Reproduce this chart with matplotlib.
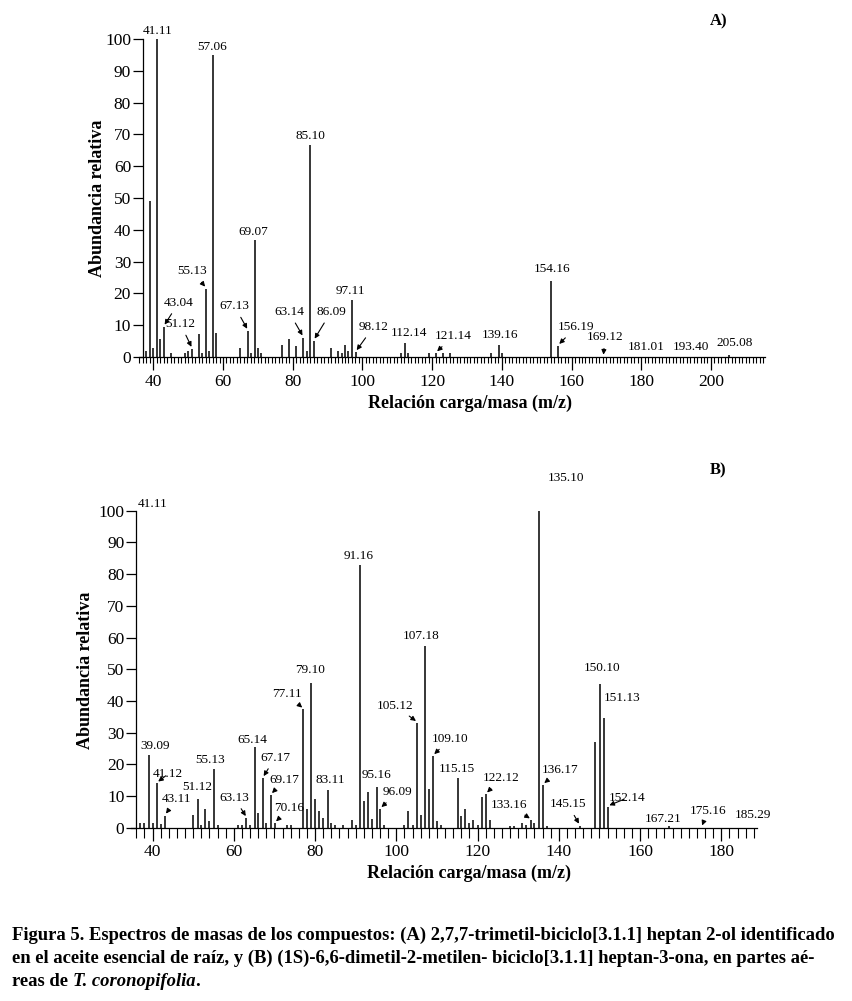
import matplotlib.pyplot as plt
from matplotlib.ticker import MultipleLocator

plt.rcParams['font.family'] = ['Liberation Serif', 'DejaVu Serif']

# ---- Panel A: peaks (m/z, relative abundance) ----
mz_a = [38, 39, 40, 41.11, 42, 43.04, 45, 49, 50, 51.12, 53, 54, 55.13, 56, 57.06, 58,
        65, 67.13, 68, 69.07, 70, 71, 77, 79, 81, 83, 84, 85.10, 86.09, 91, 93, 94,
        95, 96, 97.11, 98.12, 111, 112.14, 113, 119, 121.14, 123, 125, 137, 139.16,
        140, 154.16, 156.19, 205.08]
ab_a = [2, 49, 2.7, 100, 5.7, 9.5, 1.4, 1.4, 2, 2.5, 7.3, 1.4, 21.5, 1.9, 95, 7.5,
        2.7, 8.2, 1.4, 36.8, 2.7, 1.3, 3.8, 5.7, 3.5, 6.1, 2, 66.7, 5.1, 2.8, 2, 1.4,
        3.8, 2, 17.9, 1.5, 1.2, 4.5, 1.2, 1.2, 1.2, 1.4, 1.2, 1.4, 3.7,
        1.2, 23.9, 3.5, 0.6]

# labels: text, peak it refers to, text centre (m/z, abundance), arrow?
lab_a = ["41.11", "57.06", "69.07", "85.10", "97.11", "154.16", "55.13", "43.04",
         "51.12", "67.13", "63.14", "86.09", "98.12", "112.14", "121.14", "139.16",
         "156.19", "169.12", "181.01", "193.40", "205.08"]
lab_at_a = [41.11, 57.06, 69.07, 85.10, 97.11, 154.16, 55.13, 43.04,
            51.12, 67.13, 83, 86.09, 98.12, 112.14, 121.14, 139.16,
            156.19, 169.12, 181.01, 193.40, 205.08]
lab_pos_a = [(41.2, 102.5), (56.8, 97.5), (68.6, 39.3), (85.0, 69.5), (96.6, 20.9),
             (154.3, 27.7), (51.2, 26.9), (47.3, 17.1), (47.8, 10.4), (63.3, 16.0),
             (78.9, 14.2), (91.0, 14.2), (103.2, 9.5), (113.4, 7.7), (126.1, 6.6),
             (139.4, 7.0), (161.3, 9.4), (169.6, 6.3), (181.3, 3.1), (194.3, 3.1),
             (206.9, 4.5)]
arrow_a = [0, 0, 0, 0, 0, 0, 1, 1, 1, 1, 1, 1, 1, 0, 1, 0, 1, 1, 0, 0, 0]

# ---- Panel B ----
mz_b = [37, 38, 39.09, 40, 41.12, 42, 43.11, 50, 51.12, 52, 53, 54, 55.13, 56, 61, 62,
        63.13, 64, 65.14, 66, 67.17, 68, 69.17, 70.16, 73, 74, 77.11, 78, 79.10, 80,
        81, 82, 83.11, 84, 85, 87, 89, 90, 91.16, 92, 93, 94, 95.16, 96.09, 97, 102,
        103, 104, 105.12, 106, 107.18, 108, 109.10, 110, 111, 115.15, 116, 117, 118,
        119, 120, 121, 122.12, 123, 128, 129, 131, 132, 133.16, 134, 135.10, 136.17,
        137, 145.15, 149, 150.10, 151.13, 152.14, 167.21]
ab_b = [1.6, 1.6, 22.9, 1.6, 14, 1.2, 3.8, 4, 8.9, 1, 5.8, 2.1, 18.5, 1, 0.8, 0.8,
        3, 0.8, 25.5, 4.7, 15.6, 1.4, 10.3, 1.4, 0.7, 0.7, 37.3, 5.8, 45.8, 9.1,
        5.3, 3.2, 11.9, 1.4, 0.7, 0.7, 2.4, 0.7, 82.9, 8.4, 11.3, 2.9, 12.9, 5.9, 0.7, 0.7,
        5.3, 0.8, 33.1, 4.0, 57.3, 12.3, 22.6, 2.1, 0.7, 15.8, 3.7, 6.0, 1.4,
        2.4, 0.8, 9.7, 10.5, 2.4, 0.6, 0.6, 1.4, 1, 2.4, 1.4, 100, 13.5,
        0.6, 0.6, 27.1, 45.3, 34.5, 6.6, 0.6]

lab_b = ["41.11", "39.09", "41.12", "43.11", "51.12", "55.13", "63.13", "65.14",
         "67.17", "69.17", "70.16", "77.11", "79.10", "83.11", "91.16", "95.16",
         "96.09", "105.12", "107.18", "109.10", "115.15", "122.12", "133.16",
         "135.10", "136.17", "145.15", "150.10", "151.13", "152.14", "167.21",
         "175.16", "185.29"]
lab_at_b = [None, 39.09, 41.12, 43.11, 51.12, 55.13, 63.13, 65.14,
            67.17, 69.17, 70.16, 77.11, 79.10, 83.11, 91.16, 95.16,
            96.09, 105.12, 107.18, 109.10, 115.15, 122.12, 133.16,
            135.10, 136.17, 145.15, 150.10, 151.13, 152.14, 167.21,
            175.16, 185.29]
lab_pos_b = [(40.0, 102.1), (40.6, 25.8), (43.8, 16.9), (45.9, 9.0), (51.1, 12.9),
             (54.1, 21.5), (60.1, 9.5), (64.6, 27.8), (70.2, 22.1), (72.5, 15.0),
             (73.7, 6.1), (73.0, 42.2), (78.7, 49.6), (83.8, 15.0), (90.8, 85.6),
             (95.2, 16.7), (100.4, 11.2), (99.7, 38.5), (106.2, 60.6), (113.3, 28.1),
             (114.8, 18.4), (125.9, 15.7), (127.8, 7.2), (141.9, 110.3), (140.3, 18.2),
             (142.2, 7.4), (150.7, 50.5), (155.6, 41.0), (156.7, 9.3), (165.7, 2.8),
             (176.7, 5.2), (187.9, 4.0)]
arrow_b = [0, 0, 1, 1, 0, 0, 1, 0, 1, 1, 1, 1, 0, 0, 0, 0, 1, 1, 0, 1, 0, 1, 1,
           0, 1, 1, 0, 0, 1, 0, 1, 0]

W, H = 853, 1001
fig = plt.figure(figsize=(W / 100, H / 100), dpi=100)


def spectrum(rect, mz, ab, labels, lab_at, lab_pos, arrows, xlim, spine_x, minor):
    ax = fig.add_axes(rect)
    ax.vlines(mz, 0, ab, color='black', lw=1.1)
    ax.set_xlim(*xlim)
    ax.set_ylim(0, 100)
    for s in ['top', 'right']:
        ax.spines[s].set_visible(False)
    ax.spines['left'].set_position(('data', spine_x))
    ax.spines['left'].set_linewidth(0.9)
    ax.spines['bottom'].set_linewidth(0.9)
    ax.yaxis.set_major_locator(MultipleLocator(10))
    ax.xaxis.set_major_locator(MultipleLocator(20))
    ax.xaxis.set_minor_locator(MultipleLocator(minor))
    ax.tick_params(axis='y', direction='out', length=7, width=0.9, pad=1.5, labelsize=12.5)
    ax.tick_params(axis='x', which='major', direction='out', length=9, width=0.9,
                   pad=3, labelsize=12.5)
    ax.tick_params(axis='x', which='minor', direction='out',
                   length=4.5 if minor == 1 else 7, width=0.8)
    ax.set_ylabel('Abundancia relativa', fontsize=13, fontweight='bold')
    ax.set_xlabel('Relación carga/masa (m/z)', fontsize=13, fontweight='bold')
    lookup = dict(zip(mz, ab))
    for txt, at, pos, arr in zip(labels, lab_at, lab_pos, arrows):
        if arr:
            h = lookup.get(at, 0)
            ax.annotate(txt, xy=(at, h + 0.3), xytext=pos, ha='center', va='center',
                        fontsize=9.5, annotation_clip=False,
                        arrowprops=dict(arrowstyle='-|>', lw=0.8, color='black',
                                        mutation_scale=7, shrinkA=2, shrinkB=1))
        else:
            ax.text(pos[0], pos[1], txt, ha='center', va='center', fontsize=9.5,
                    clip_on=False)
    return ax


axA = spectrum([139 / W, 1 - 357 / H, (765 - 139) / W, 318 / H],
               mz_a, ab_a, lab_a, lab_at_a, lab_pos_a, arrow_a,
               (35.9, 215.5), 37, 1)
axB = spectrum([131 / W, 1 - 827.7 / H, (757 - 131) / W, 317 / H],
               mz_b, ab_b, lab_b, lab_at_b, lab_pos_b, arrow_b,
               (34.7, 188.8), 36, 2)

# axis labels placed in figure coordinates
axA.yaxis.set_label_coords(97.5 / W, 1 - 198 / H, transform=fig.transFigure)
axA.xaxis.set_label_coords(470 / W, 1 - 403 / H, transform=fig.transFigure)
axB.yaxis.set_label_coords(85.5 / W, 1 - 670 / H, transform=fig.transFigure)
axB.xaxis.set_label_coords(469 / W, 1 - 873 / H, transform=fig.transFigure)
for ax in (axA, axB):
    ax.yaxis.label.set_va('center')
    ax.xaxis.label.set_va('center')

fig.text(719 / W, 1 - 21.5 / H, 'A)', ha='center', va='center', fontsize=12, fontweight='bold')
fig.text(718 / W, 1 - 470 / H, 'B)', ha='center', va='center', fontsize=12, fontweight='bold')

# caption (baselines)
cap = dict(fontsize=13.4, fontweight='bold', va='baseline')
fig.text(12 / W, 1 - 940 / H,
         'Figura 5. Espectros de masas de los compuestos: (A) 2,7,7-trimetil-biciclo[3.1.1] '
         'heptan 2-ol identificado', **cap)
fig.text(12 / W, 1 - 963 / H,
         'en el aceite esencial de raíz, y (B) (1S)-6,6-dimetil-2-metilen- biciclo[3.1.1] '
         'heptan-3-ona, en partes aé-', **cap)
y3 = 1 - 986 / H
t1 = fig.text(12 / W, y3, 'reas de ', **cap)
t2 = fig.text(0, y3, 'T. coronopifolia', style='italic', **cap)
t3 = fig.text(0, y3, '.', **cap)

# chain the pieces of the last caption line after each other
r = fig.canvas.get_renderer()
inv = fig.transFigure.inverted()
t2.set_x(inv.transform((t1.get_window_extent(r).x1, 0))[0])
t3.set_x(inv.transform((t2.get_window_extent(r).x1, 0))[0])

fig.savefig('out.png', dpi=100)
